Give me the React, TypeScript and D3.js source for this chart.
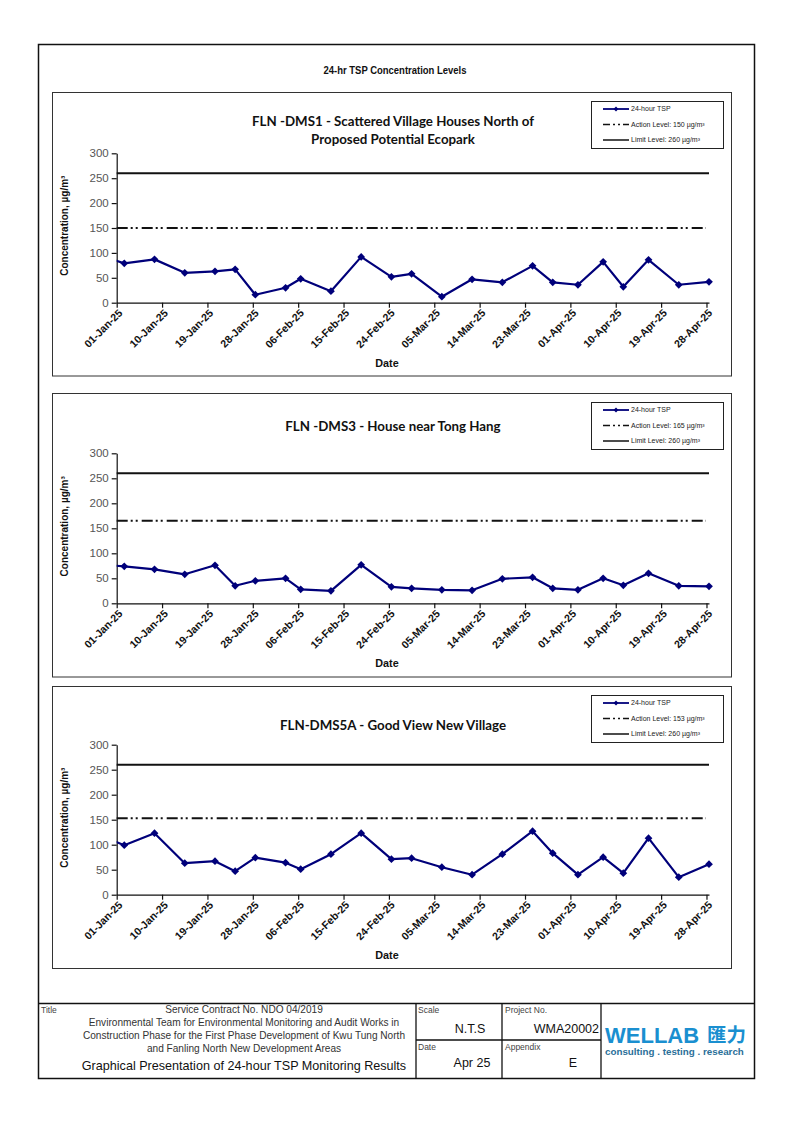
import React, { useEffect, useRef } from "react";
import * as d3 from "d3";

// ---------- DATA ----------
const sampleDates = [
  "2024-12-27", "2025-01-02", "2025-01-08", "2025-01-14", "2025-01-20", "2025-01-24",
  "2025-01-28", "2025-02-03", "2025-02-06", "2025-02-12", "2025-02-18", "2025-02-24",
  "2025-02-28", "2025-03-06", "2025-03-12", "2025-03-18", "2025-03-24", "2025-03-28",
  "2025-04-02", "2025-04-07", "2025-04-11", "2025-04-16", "2025-04-22", "2025-04-28",
];
const dms1Values = [99, 79, 87, 60, 63, 67, 16, 30, 48, 23, 92, 52, 58, 12, 47, 41, 74, 41, 36, 82, 32, 86, 36, 42];
const dms3Values = [78, 74, 68, 58, 76, 35, 45, 50, 28, 25, 77, 33, 30, 27, 26, 49, 52, 30, 27, 50, 36, 60, 35, 34];
const dms5aValues = [123, 99, 123, 63, 67, 47, 74, 64, 51, 81, 123, 71, 73, 55, 40, 81, 127, 83, 40, 75, 43, 113, 35, 61];

const stationTitles = [
  ["FLN -DMS1 - Scattered Village Houses North of", "Proposed Potential Ecopark"],
  ["FLN -DMS3 - House near Tong Hang"],
  ["FLN-DMS5A - Good View New Village"],
];
const actionLevels = [150, 165, 153];
const limitLevels = [260, 260, 260];
const seriesValues = [dms1Values, dms3Values, dms5aValues];

const xTickDates = [
  "2025-01-01", "2025-01-10", "2025-01-19", "2025-01-28", "2025-02-06", "2025-02-15",
  "2025-02-24", "2025-03-05", "2025-03-14", "2025-03-23", "2025-04-01", "2025-04-10",
  "2025-04-19", "2025-04-28",
];
const yTicks = [0, 50, 100, 150, 200, 250, 300];
const xDomain = ["2025-01-01T00:00", "2025-04-28T12:00"];

const footerTitleLines = [
  "Service Contract No. NDO 04/2019",
  "Environmental Team for Environmental Monitoring and Audit Works in",
  "Construction Phase for the First Phase Development of Kwu Tung North",
  "and Fanling North New Development Areas",
];

// ---------- LAYOUT ----------
const W = 794;
const H = 1123;
const plotLeft = 116.7;
const plotRight = 709;
const chartBottoms = [302.7, 603.3, 894.7];
const chartTops = [153.3, 453.3, 744.7];
const boxTops = [92, 393, 686];
const boxBottoms = [375.5, 676.5, 968];
const titleBaselines = [[125.5, 143.5], [431], [729.5]];

const SANS = "'Liberation Sans', Arial, sans-serif";
const TITLE_FONT = "Lato, 'Open Sans', sans-serif";
const NAVY = "#00007a";

export default function App() {
  const ref = useRef<SVGSVGElement | null>(null);

  useEffect(() => {
    const svg = d3.select(ref.current);
    svg.selectAll("*").remove();

    const parseDay = d3.timeParse("%Y-%m-%d");
    const parseDT = d3.timeParse("%Y-%m-%dT%H:%M");
    const fmt = d3.timeFormat("%d-%b-%y");

    // outer border
    svg.append("rect").attr("x", 38.5).attr("y", 44.5).attr("width", 716).attr("height", 1034)
      .attr("fill", "none").attr("stroke", "#111").attr("stroke-width", 1.5);

    svg.append("text").attr("x", 395).attr("y", 73.5).attr("text-anchor", "middle")
      .attr("font-family", SANS).attr("font-weight", "bold").attr("font-size", 11.5)
      .attr("textLength", 143).attr("lengthAdjust", "spacingAndGlyphs")
      .attr("fill", "#111").text("24-hr TSP Concentration Levels");

    const x = d3.scaleTime()
      .domain([parseDT(xDomain[0])!, parseDT(xDomain[1])!])
      .range([plotLeft, plotRight]);

    stationTitles.forEach((titleLines, ci) => {
      const g = svg.append("g");
      const y = d3.scaleLinear().domain([0, 300]).range([chartBottoms[ci], chartTops[ci]]);
      const clipId = `clip${ci}`;
      g.append("clipPath").attr("id", clipId).append("rect")
        .attr("x", plotLeft).attr("y", chartTops[ci] - 10)
        .attr("width", plotRight - plotLeft + 6).attr("height", chartBottoms[ci] - chartTops[ci] + 20);

      // chart box
      g.append("rect").attr("x", 52.5).attr("y", boxTops[ci] + 0.5)
        .attr("width", 679).attr("height", boxBottoms[ci] - boxTops[ci])
        .attr("fill", "#fff").attr("stroke", "#333").attr("stroke-width", 1);

      // title
      titleLines.forEach((t, li) => {
        g.append("text").attr("x", 393).attr("y", titleBaselines[ci][li])
          .attr("text-anchor", "middle").attr("font-family", TITLE_FONT)
          .attr("font-weight", 700).attr("font-size", 13.3).attr("fill", "#111").text(t);
      });

      // y axis
      const yAxis = d3.axisLeft(y).tickValues(yTicks).tickSize(5).tickSizeOuter(0).tickPadding(3);
      const ya = g.append("g").attr("transform", `translate(${plotLeft},0)`).call(yAxis);
      ya.selectAll("path,line").attr("stroke", "#111").attr("stroke-width", 1.2);
      ya.selectAll("text").attr("font-family", SANS).attr("font-size", 11.5).attr("fill", "#555");

      // x axis
      const xAxis = d3.axisBottom(x)
        .tickValues(xTickDates.map((d) => parseDay(d)!))
        .tickFormat((d) => fmt(d as Date))
        .tickSize(5).tickSizeOuter(0);
      const xa = g.append("g").attr("transform", `translate(0,${chartBottoms[ci]})`).call(xAxis);
      xa.selectAll("path,line").attr("stroke", "#111").attr("stroke-width", 1.2);
      xa.selectAll("text")
        .attr("font-family", SANS).attr("font-size", 10.6).attr("font-weight", "bold").attr("fill", "#111")
        .attr("text-anchor", "end").attr("dy", null).attr("y", 0)
        .attr("transform", "translate(6,11) rotate(-45)");

      // axis titles
      g.append("text").attr("transform", `translate(68,${chartBottoms[ci] - 77}) rotate(-90)`)
        .attr("text-anchor", "middle").attr("font-family", SANS).attr("font-weight", "bold")
        .attr("font-size", 10).attr("fill", "#111").text("Concentration, µg/m³");
      g.append("text").attr("x", 387).attr("y", chartBottoms[ci] + 64)
        .attr("text-anchor", "middle").attr("font-family", SANS).attr("font-weight", "bold")
        .attr("font-size", 10.8).attr("fill", "#111").text("Date");

      // level lines
      g.append("line").attr("x1", plotLeft).attr("x2", plotRight)
        .attr("y1", y(limitLevels[ci])).attr("y2", y(limitLevels[ci]))
        .attr("stroke", "#111").attr("stroke-width", 2);
      g.append("line").attr("x1", plotLeft).attr("x2", plotRight - 3)
        .attr("y1", y(actionLevels[ci])).attr("y2", y(actionLevels[ci]))
        .attr("stroke", "#111").attr("stroke-width", 2)
        .attr("stroke-dasharray", "11 3 2 3 2 4");

      // series
      const pts = sampleDates.map((d, i) => ({
        date: d3.timeHour.offset(parseDay(d)!, 12),
        v: seriesValues[ci][i],
      }));
      const line = d3.line<{ date: Date; v: number }>().x((d) => x(d.date)).y((d) => y(d.v));
      const sg = g.append("g").attr("clip-path", `url(#${clipId})`);
      sg.append("path").datum(pts).attr("d", line).attr("fill", "none")
        .attr("stroke", NAVY).attr("stroke-width", 2.2).attr("stroke-linejoin", "round");
      const sym = d3.symbol().type(d3.symbolSquare).size(30);
      sg.selectAll("path.pt").data(pts).join("path").attr("class", "pt")
        .attr("d", sym() as string)
        .attr("transform", (d) => `translate(${x(d.date)},${y(d.v)}) rotate(45)`)
        .attr("fill", NAVY);

      // legend
      const lt = boxTops[ci] + 9;
      const lg = g.append("g");
      lg.append("rect").attr("x", 591.5).attr("y", lt + 0.5).attr("width", 132).attr("height", 47)
        .attr("fill", "#fff").attr("stroke", "#222").attr("stroke-width", 1);
      const rows = [
        { label: "24-hour TSP", kind: "series" },
        { label: `Action Level: ${actionLevels[ci]} µg/m³`, kind: "action" },
        { label: `Limit Level: ${limitLevels[ci]} µg/m³`, kind: "limit" },
      ];
      rows.forEach((r, ri) => {
        const ry = lt + 8 + ri * 15.5;
        const l = lg.append("line").attr("x1", 603).attr("x2", 629).attr("y1", ry).attr("y2", ry)
          .attr("stroke-width", r.kind === "series" ? 1.8 : 1.5);
        if (r.kind === "series") {
          l.attr("stroke", NAVY);
          lg.append("path").attr("d", d3.symbol().type(d3.symbolSquare).size(12)() as string)
            .attr("transform", `translate(616,${ry}) rotate(45)`).attr("fill", NAVY);
        } else {
          l.attr("stroke", "#111");
          if (r.kind === "action") l.attr("stroke-dasharray", "7 3 2 3 2 3");
        }
        lg.append("text").attr("x", 631).attr("y", ry + 2.3).attr("font-family", SANS)
          .attr("font-size", 7).attr("fill", "#222").text(r.label);
      });
    });

    // ---------- footer ----------
    const f = svg.append("g");
    const hl = (x1: number, x2: number, yy: number, w = 1.3) =>
      f.append("line").attr("x1", x1).attr("x2", x2).attr("y1", yy).attr("y2", yy)
        .attr("stroke", "#111").attr("stroke-width", w);
    const vl = (xx: number, y1: number, y2: number) =>
      f.append("line").attr("x1", xx).attr("x2", xx).attr("y1", y1).attr("y2", y2)
        .attr("stroke", "#111").attr("stroke-width", 1.3);
    hl(38.5, 754.5, 1003.5, 1.5);
    hl(416, 601, 1040);
    vl(416, 1003.5, 1078.5);
    vl(502, 1003.5, 1078.5);
    vl(601, 1003.5, 1078.5);

    const txt = (s: string, xx: number, yy: number, size: number, anchor = "start", fill = "#333", weight = "normal") =>
      f.append("text").attr("x", xx).attr("y", yy).attr("font-family", SANS).attr("font-size", size)
        .attr("text-anchor", anchor).attr("fill", fill).attr("font-weight", weight).text(s);

    txt("Title", 41, 1013, 8.5, "start", "#444");
    footerTitleLines.forEach((s, i) => txt(s, 244, 1013 + i * 13, 10.1, "middle", "#333"));
    txt("Graphical Presentation of 24-hour TSP Monitoring Results", 244, 1070, 12.6, "middle", "#111");
    txt("Scale", 418, 1013, 8.5, "start", "#444");
    txt("N.T.S", 470, 1033, 12.5, "middle", "#111");
    txt("Project No.", 505, 1013, 8.5, "start", "#444");
    txt("WMA20002", 599, 1033, 12.5, "end", "#111");
    txt("Date", 418, 1050, 8.5, "start", "#444");
    txt("Apr 25", 472, 1067, 12.5, "middle", "#111");
    txt("Appendix", 505, 1050, 8.5, "start", "#444");
    txt("E", 573, 1067, 12.5, "middle", "#111");

    f.append("text").attr("x", 605).attr("y", 1043).attr("font-family", SANS).attr("font-weight", "bold")
      .attr("font-size", 22).attr("fill", "#1a8fd0").text("WELLAB");
    f.append("text").attr("x", 707).attr("y", 1042).attr("font-family", "'Noto Sans CJK TC', sans-serif")
      .attr("font-weight", "bold").attr("font-size", 19.5).attr("fill", "#1a8fd0").text("匯力");
    f.append("text").attr("x", 605).attr("y", 1055).attr("font-family", SANS).attr("font-weight", "bold")
      .attr("font-size", 9.8).attr("fill", "#2a6f99").text("consulting . testing . research");
  }, []);

  return (
    <svg
      ref={ref}
      width={W}
      height={H}
      viewBox={`0 0 ${W} ${H}`}
      style={{ position: "absolute", left: 0, top: 0, background: "#fff" }}
    />
  );
}
